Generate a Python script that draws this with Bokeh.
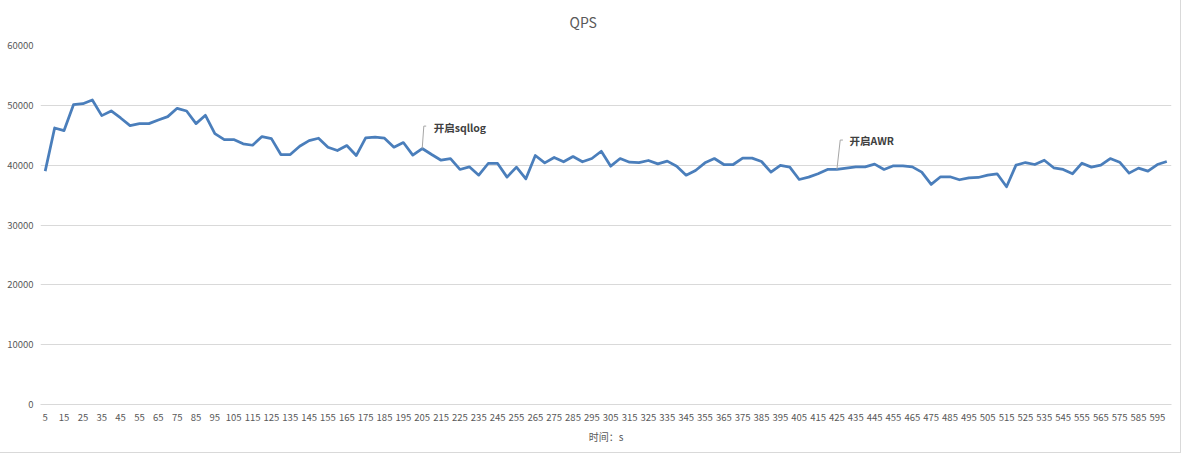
from bokeh.plotting import figure
from bokeh.models import Range1d, FixedTicker, BasicTickFormatter
from bokeh.core.properties import value
from bokeh.embed import file_html
from bokeh.resources import INLINE

# ---- data ----
seconds = list(range(5, 605, 5))          # x categories (time, s)
qps = [39000, 46220, 45780, 50100, 50280, 50890, 48280, 49060, 47890, 46610,
       46940, 46940, 47560, 48110, 49500, 49060, 46940, 48330, 45280, 44280,
       44280, 43560, 43330, 44780, 44440, 41780, 41780, 43170, 44110, 44500,
       43000, 42440, 43280, 41610, 44560, 44670, 44500, 43000, 43780, 41670,
       42780, 41780, 40830, 41110, 39280, 39720, 38330, 40280, 40280, 38000,
       39670, 37720, 41610, 40390, 41280, 40560, 41440, 40560, 41110, 42330,
       39830, 41110, 40500, 40440, 40780, 40220, 40670, 39830, 38330, 39110,
       40390, 41110, 40110, 40110, 41170, 41170, 40610, 38830, 39950, 39670,
       37610, 38000, 38560, 39280, 39280, 39500, 39720, 39720, 40170, 39280,
       39890, 39890, 39720, 38830, 36780, 38060, 38060, 37560, 37890, 37940,
       38330, 38560, 36390, 40000, 40440, 40110, 40830, 39560, 39280, 38560,
       40330, 39670, 40000, 41110, 40500, 38670, 39500, 39000, 40110, 40610]
x_tick_labels = list(range(5, 600, 10))
y_ticks = [0, 10000, 20000, 30000, 40000, 50000, 60000]
annot_seconds = [205, 425]
annot_texts = ["开启sqllog", "开启AWR"]
title_text = "QPS"
x_title = "时间：s"

# ---- layout / style ----
W, H = 1180, 452
BL, BR, BT, BB = 40, 9, 44, 48
X0, X1, Y0, Y1 = 2.5, 602.5, 0, 60000
FW, FH = W - BL - BR, H - BT - BB
ux = (X1 - X0) / FW     # data units per px (x)
uy = (Y1 - Y0) / FH     # data units per px (y)
GRID = "#d9d9d9"
TXT = "#595959"
FONT = "Noto Sans CJK SC"

p = figure(width=W, height=H, output_backend="svg", toolbar_location=None,
           x_range=Range1d(X0, X1), y_range=Range1d(Y0, Y1),
           min_border_left=BL, min_border_right=BR, min_border_top=BT,
           min_border_bottom=BB, title=title_text)
p.styles = {"outline": "1px solid #d9d9d9"}
p.outline_line_color = None
p.background_fill_color = "white"
p.border_fill_color = "white"

p.title.align = "left"
p.title.offset = 529
p.title.vertical_align = "top"
p.title.text_font = FONT
p.title.text_font_size = "14px"
p.title.text_font_style = "normal"
p.title.text_color = TXT
p.title.standoff = 23

# y axis
p.yaxis.ticker = FixedTicker(ticks=y_ticks)
p.yaxis.formatter = BasicTickFormatter(use_scientific=False)
p.yaxis.axis_line_color = None
p.yaxis.major_tick_line_color = None
p.yaxis.major_tick_in = 0
p.yaxis.major_tick_out = 0
p.yaxis.minor_tick_line_color = None
p.yaxis.major_label_text_font = FONT
p.yaxis.major_label_text_font_size = "9.5px"
p.yaxis.major_label_text_color = TXT
p.yaxis.major_label_standoff = 7

# x axis
p.xaxis.ticker = FixedTicker(ticks=x_tick_labels)
p.xaxis.axis_line_color = GRID
p.xaxis.major_tick_line_color = None
p.xaxis.major_tick_in = 0
p.xaxis.major_tick_out = 0
p.xaxis.minor_tick_line_color = None
p.xaxis.major_label_text_font = FONT
p.xaxis.major_label_text_font_size = "9.5px"
p.xaxis.major_label_text_color = TXT
p.xaxis.major_label_standoff = 9
p.xaxis.axis_label = x_title
p.xaxis.axis_label_text_font = FONT
p.xaxis.axis_label_text_font_size = "10px"
p.xaxis.axis_label_text_font_style = "normal"
p.xaxis.axis_label_text_color = TXT
p.xaxis.axis_label_standoff = 5

p.xgrid.grid_line_color = None
p.ygrid.grid_line_color = GRID
p.ygrid.grid_line_width = 1

p.line(seconds, qps, line_color="#4A7EBB", line_width=2.75, line_join="round")

# annotations (leader lines + labels), offsets in screen px converted to data units
rise_px = [22.5, 29.5]
lean_px = [1.6, 3.3]
foot_px = [2.4, 2.7]
text_dx = [11.5, 12.5]
for s, t, r, l, f, dx in zip(annot_seconds, annot_texts, rise_px, lean_px, foot_px, text_dx):
    v = qps[seconds.index(s)]
    xs = [s, s + l * ux, s + (l + f) * ux]
    ys = [v, v + r * uy, v + r * uy]
    p.line(xs, ys, line_color="#a6a6a6", line_width=1)
    p.text(x=[s], y=[v], text=[t], x_offset=dx, y_offset=-r + 1,
           text_font=value(FONT), text_font_size="10.5px", text_font_style="bold",
           text_color="#404040", text_align="left", text_baseline="middle")

open("out.html", "w").write(file_html(p, INLINE))
